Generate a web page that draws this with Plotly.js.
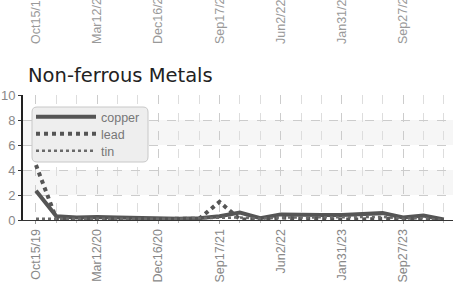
<!DOCTYPE html>
<html><head><meta charset="utf-8">
<script src="https://cdn.plot.ly/plotly-3.0.1.min.js"></script>
<style>html,body{margin:0;padding:0;background:#fff;overflow:hidden;} #chart{width:453px;height:285px;}</style>
</head><body><div id="chart"></div>
<script>
// category index of each observation (labels shown every third period)
const periods = [0,1,2,3,4,5,6,7,8,9,10,11,12,13,14,15,16,17,18,19,20];
const tickPeriods = [0,3,6,9,12,15,18];
const tickLabels = ['Oct15/19','Mar12/20','Dec16/20','Sep17/21','Jun2/22','Jan31/23','Sep27/23'];
const seriesNames = ['copper','lead','tin'];
const copper = [2.35,0.3,0.2,0.25,0.2,0.15,0.15,0.1,0.15,0.3,0.6,0.15,0.45,0.4,0.4,0.4,0.45,0.55,0.2,0.35,0.05];
const lead   = [4.4,0.1,0.05,0.05,0.05,0.05,0.05,0.05,0.1,1.45,0.05,0.05,0.2,0.1,0.05,0.05,0.05,0.1,0.05,0.1,0.0];
const tin    = [0.1,0.1,0.1,0.1,0.05,0.1,0.1,0.1,0.15,0.15,0.2,0.1,0.2,0.2,0.2,0.2,0.2,0.25,0.1,0.15,0.0];
const yTicks = [0,2,4,6,8,10];

const TOP = 44, PH = 285 - TOP - 65;
const narrow = '"Liberation Sans",Arial,sans-serif';
const legFont = {family:narrow, size:12.5, color:'#777'};
const traces = [
  {x: periods, y: copper, name: seriesNames[0], legend:'legend', mode:'lines', line:{color:'#555555', width:4, dash:'solid'}},
  {x: periods, y: lead, name: seriesNames[1], legend:'legend2', mode:'lines', line:{color:'#555555', width:4, dash:'dot'}},
  {x: periods, y: tin, name: seriesNames[2], legend:'legend3', mode:'lines', line:{color:'#6a6a6a', width:2.5, dash:'dot'}},
  {x: [], y: [], xaxis:'x2', yaxis:'y', showlegend:false, hoverinfo:'skip', mode:'lines'}
];
const xr = [-0.637, 20.45];
function leg(py){ return {x:(31-23)/430, xanchor:'left', y:(220-py)/PH, yanchor:'middle', bgcolor:'rgba(0,0,0,0)', borderwidth:0, font:legFont, itemwidth:60}; }
const layout = {
  width:453, height:285,
  margin:{l:23, r:0, t:TOP, b:65},
  paper_bgcolor:'#fff', plot_bgcolor:'rgba(0,0,0,0)',
  title:{text:'Non-ferrous Metals', x:28/453, xanchor:'left', xref:'container', yref:'container', y:1-75/285, yanchor:'middle',
         font:{family:'"DejaVu Sans",sans-serif', size:19.5, color:'#222'}},
  showlegend:true,
  legend:leg(117), legend2:leg(134), legend3:leg(151),
  xaxis:{range:xr, tickmode:'array', tickvals:tickPeriods, ticktext:tickLabels, tickangle:-90,
         tickfont:{family:narrow, size:12.5, color:'#888'}, ticks:'outside', ticklen:3, tickcolor:'#999',
         showline:true, linecolor:'#333', linewidth:1, showgrid:true, gridcolor:'#cccccc', griddash:'dash', zeroline:false,
         minor:{tickmode:'linear', tick0:0, dtick:1, showgrid:true, gridcolor:'#dddddd', griddash:'dash', ticks:'outside', ticklen:2, tickcolor:'#bbb'}},
  xaxis2:{range:xr, overlaying:'x', anchor:'free', position:1, side:'top', tickmode:'array', tickvals:tickPeriods, ticktext:tickLabels,
          tickangle:-90, tickfont:{family:narrow, size:12.5, color:'#999'}, ticks:'', showline:false, showgrid:false, zeroline:false},
  yaxis:{domain:[0,(220-95)/PH], range:[0,10], tickmode:'array', tickvals:yTicks, ticks:'outside', ticklen:3, tickcolor:'#333',
         showline:true, linecolor:'#222', linewidth:2, showgrid:true, gridcolor:'#cccccc', griddash:'dash', zeroline:false,
         tickfont:{family:narrow, size:13, color:'#888'}},
  shapes:[
    {type:'rect', xref:'paper', x0:0, x1:1, yref:'y', y0:6, y1:8, fillcolor:'#f6f6f6', line:{width:0}, layer:'below'},
    {type:'rect', xref:'paper', x0:0, x1:1, yref:'y', y0:2, y1:4, fillcolor:'#f6f6f6', line:{width:0}, layer:'below'},
    {type:'path', xref:'paper', yref:'paper', xsizemode:'pixel', ysizemode:'pixel', xanchor:(32-23)/430, yanchor:(220-107)/PH,
     path:'M 5,0 L 111,0 Q 116,0 116,-5 L 116,-50 Q 116,-55 111,-55 L 5,-55 Q 0,-55 0,-50 L 0,-5 Q 0,0 5,0 Z',
     fillcolor:'#eeeeee', line:{color:'#c8c8c8', width:1}, layer:'above'}
  ]
};
Plotly.newPlot('chart', traces, layout, {displayModeBar:false, staticPlot:true});
</script></body></html>
